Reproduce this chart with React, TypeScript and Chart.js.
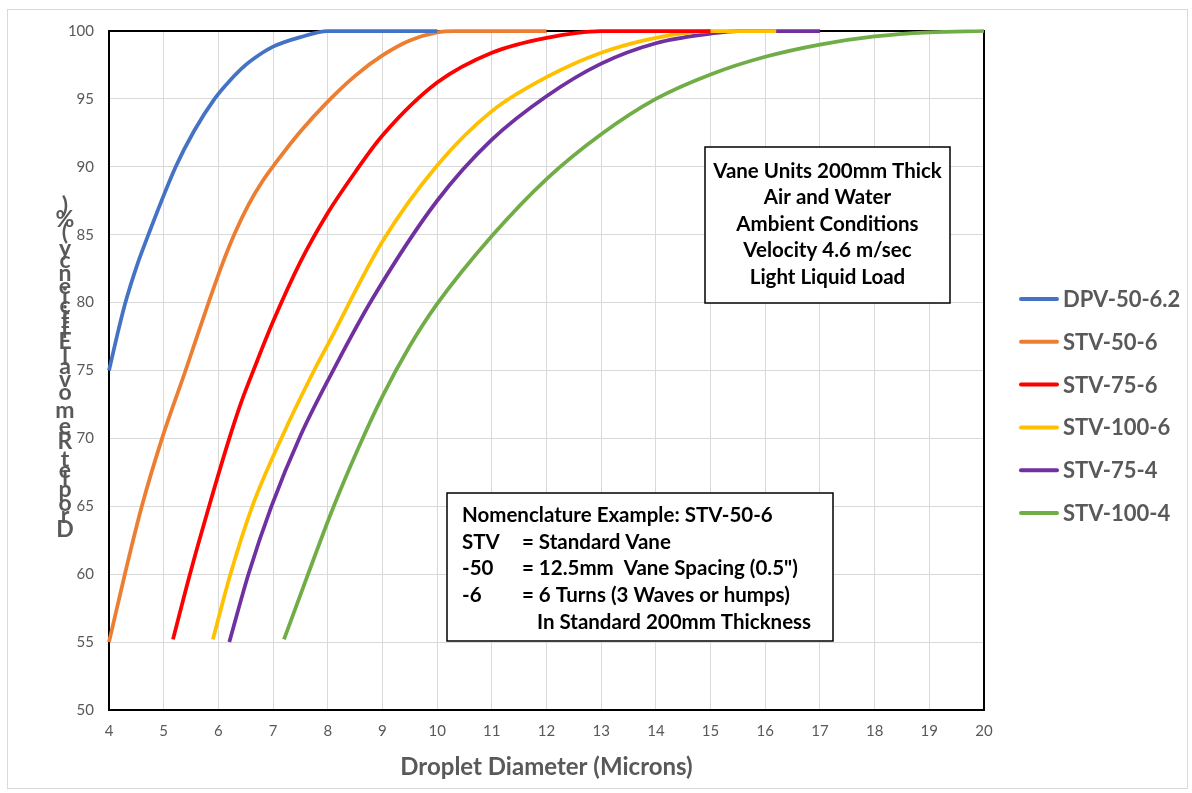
import React, { useEffect, useRef } from "react";
import { Chart, registerables } from "chart.js";

Chart.register(...registerables);

// ---------- DATA ----------
const SERIES_NAMES = ["DPV-50-6.2", "STV-50-6", "STV-75-6", "STV-100-6", "STV-75-4", "STV-100-4"];
const SERIES_COLORS = ["#4472C4", "#ED7D31", "#FF0000", "#FFC000", "#7030A0", "#70AD47"];

const DPV_50_62_X = [4, 4.15, 4.3, 4.5, 4.72, 5.22, 5.55, 5.93, 6.2, 6.5, 6.75, 7, 7.5, 8, 10];
const DPV_50_62_Y = [75, 77.6, 80, 82.6, 85, 90, 92.6, 95, 96.3, 97.5, 98.25, 98.85, 99.55, 100, 100];

const STV_50_6_X = [4, 4.29, 4.6, 4.97, 5.4, 5.82, 6.05, 6.3, 6.55, 6.8, 7.05, 7.5, 8, 8.5, 9, 9.5, 10, 10.3, 12];
const STV_50_6_Y = [55, 60, 65, 70, 75, 80, 82.6, 85.1, 87.2, 88.9, 90.3, 92.6, 94.8, 96.7, 98.2, 99.3, 99.9, 100, 100];

const STV_75_6_X = [5.17, 5.48, 5.83, 6.2, 6.43, 6.66, 7, 7.5, 8, 8.5, 9, 10, 11, 12, 13, 15];
const STV_75_6_Y = [55.2, 60, 65, 70, 72.8, 75.2, 78.6, 83, 86.6, 89.6, 92.3, 96.2, 98.4, 99.5, 100, 100];

const STV_100_6_X = [5.9, 6.22, 6.62, 7.15, 7.75, 8, 9, 10, 11, 12, 13, 14, 15, 16.2];
const STV_100_6_Y = [55.2, 60, 65, 70, 75, 76.9, 84.5, 90.1, 94.1, 96.6, 98.4, 99.5, 100, 100];

const STV_75_4_X = [6.2, 6.55, 6.97, 7.5, 8.15, 8.82, 10, 11, 12, 13, 14, 15, 15.5, 17];
const STV_75_4_Y = [55, 60, 65, 70.2, 75.4, 80.3, 87.5, 92, 95.2, 97.6, 99.1, 99.8, 100, 100];

const STV_100_4_X = [7.2, 7.64, 8.07, 8.55, 9, 9.5, 10, 11, 12, 13, 14, 15, 16, 17, 18, 19, 20];
const STV_100_4_Y = [55.2, 60, 64.6, 69.2, 73.1, 76.8, 79.9, 84.9, 89.1, 92.4, 95, 96.8, 98.1, 99, 99.6, 99.9, 100];

const SERIES_X = [DPV_50_62_X, STV_50_6_X, STV_75_6_X, STV_100_6_X, STV_75_4_X, STV_100_4_X];
const SERIES_Y = [DPV_50_62_Y, STV_50_6_Y, STV_75_6_Y, STV_100_6_Y, STV_75_4_Y, STV_100_4_Y];

const X_MIN = 4, X_MAX = 20, X_STEP = 1;
const Y_MIN = 50, Y_MAX = 100, Y_STEP = 5;

const X_TITLE = "Droplet Diameter (Microns)";
const Y_TITLE = "Droplet Removal Efficiency (%)";

const INFO_LINES = [
  "Vane Units 200mm Thick",
  "Air and Water",
  "Ambient Conditions",
  "Velocity 4.6 m/sec",
  "Light Liquid Load",
];
const NOMEN_TITLE = "Nomenclature Example: STV-50-6";
const NOMEN_KEYS = ["STV", "-50", "-6", ""];
const NOMEN_VALUES = [
  "= Standard Vane",
  "= 12.5mm  Vane Spacing (0.5\")",
  "= 6 Turns (3 Waves or humps)",
  "In Standard 200mm Thickness",
];

const FONT = "Lato, 'Noto Sans', 'DejaVu Sans', sans-serif";
const GRAY_TEXT = "#595959";

// ---------- PLUGINS ----------
const backgroundPlugin = {
  id: "bgPlugin",
  beforeDraw(chart: any) {
    const ctx = chart.ctx;
    ctx.save();
    ctx.fillStyle = "#ffffff";
    ctx.fillRect(0, 0, chart.width, chart.height);
    ctx.strokeStyle = "#d9d9d9";
    ctx.lineWidth = 1;
    ctx.strokeRect(7.5, 9.5, chart.width - 12, chart.height - 14);
    ctx.restore();
  },
};

const framePlugin = {
  id: "framePlugin",
  beforeDatasetsDraw(chart: any) {
    const { ctx, chartArea: a } = chart;
    ctx.save();
    ctx.strokeStyle = "#000000";
    ctx.lineWidth = 2;
    ctx.strokeRect(a.left, a.top, a.right - a.left, a.bottom - a.top);
    ctx.restore();
  },
};

const decorPlugin = {
  id: "decorPlugin",
  afterDatasetsDraw(chart: any) {
    const { ctx, chartArea: a } = chart;
    ctx.save();

    // Info box
    ctx.fillStyle = "#ffffff";
    ctx.fillRect(705, 147, 245, 156);
    ctx.strokeStyle = "#000000";
    ctx.lineWidth = 1.5;
    ctx.strokeRect(705, 147, 245, 156);
    ctx.fillStyle = "#000000";
    ctx.font = `bold 20.5px ${FONT}`;
    ctx.textAlign = "center";
    ctx.textBaseline = "middle";
    INFO_LINES.forEach((t, i) => ctx.fillText(t, 827.5, 171 + i * 26.5));

    // Nomenclature box
    ctx.fillStyle = "#ffffff";
    ctx.fillRect(447, 493, 386, 148);
    ctx.strokeRect(447, 493, 386, 148);
    ctx.fillStyle = "#000000";
    ctx.textAlign = "left";
    ctx.fillText(NOMEN_TITLE, 462, 515);
    NOMEN_KEYS.forEach((k, i) => {
      const y = 542 + i * 26.8;
      if (k) ctx.fillText(k, 462, y);
      ctx.fillText(NOMEN_VALUES[i], k ? 522 : 537, y);
    });

    // Legend
    ctx.font = `bold 22px ${FONT}`;
    ctx.textBaseline = "middle";
    chart.data.datasets.forEach((ds: any, i: number) => {
      const y = 299 + i * 42.8;
      ctx.strokeStyle = ds.borderColor;
      ctx.lineWidth = 4;
      ctx.lineCap = "round";
      ctx.beginPath();
      ctx.moveTo(1021, y);
      ctx.lineTo(1057, y);
      ctx.stroke();
      ctx.fillStyle = GRAY_TEXT;
      ctx.fillText(ds.label, 1063, y + 1);
    });

    // Y title, stacked characters (upright glyphs, advanced by glyph width)
    ctx.font = `bold 23px ${FONT}`;
    ctx.fillStyle = GRAY_TEXT;
    ctx.textAlign = "center";
    const chars = Array.from(Y_TITLE);
    const widths = chars.map((c) => ctx.measureText(c).width);
    const total = widths.reduce((s, w) => s + w, 0);
    const target = 336;
    const k = target / total;
    const cy = (a.top + a.bottom) / 2;
    let y = cy + target / 2;
    chars.forEach((c, i) => {
      const w = widths[i] * k;
      ctx.fillText(c, 65, y - w / 2);
      y -= w;
    });

    // X title
    ctx.font = `bold 24px ${FONT}`;
    ctx.textAlign = "center";
    ctx.fillText(X_TITLE, (a.left + a.right) / 2, 767);

    ctx.restore();
  },
};

// ---------- COMPONENT ----------
export default function App() {
  const ref = useRef<HTMLCanvasElement | null>(null);

  useEffect(() => {
    document.body.style.margin = "0";
    document.body.style.overflow = "hidden";
    const canvas = ref.current;
    if (!canvas) return;

    const datasets = SERIES_NAMES.map((name, i) => ({
      label: name,
      data: SERIES_X[i].map((x, j) => ({ x, y: SERIES_Y[i][j] })),
      borderColor: SERIES_COLORS[i],
      backgroundColor: SERIES_COLORS[i],
      borderWidth: 3.75,
      pointRadius: 0,
      fill: false,
      cubicInterpolationMode: "monotone" as const,
      clip: { left: 3, top: 4, right: 3, bottom: 3 },
    }));

    const chart = new Chart(canvas, {
      type: "line",
      data: { datasets },
      options: {
        animation: false,
        responsive: false,
        devicePixelRatio: 1,
        layout: { padding: { left: 0, top: 31, right: 208, bottom: 0 } },
        plugins: {
          legend: { display: false },
          tooltip: { enabled: false },
          title: { display: false },
        },
        scales: {
          x: {
            type: "linear",
            min: X_MIN,
            max: X_MAX,
            ticks: {
              stepSize: X_STEP,
              color: GRAY_TEXT,
              font: { family: FONT, size: 15 },
              padding: 12,
            },
            grid: { color: "#d9d9d9", lineWidth: 1, drawTicks: false },
            border: { display: false },
            afterFit: (s: any) => {
              s.height = 83;
            },
          },
          y: {
            type: "linear",
            min: Y_MIN,
            max: Y_MAX,
            ticks: {
              stepSize: Y_STEP,
              color: GRAY_TEXT,
              font: { family: FONT, size: 15 },
              padding: 15,
            },
            grid: { color: "#d9d9d9", lineWidth: 1, drawTicks: false },
            border: { display: false },
            afterFit: (s: any) => {
              s.width = 109;
            },
          },
        },
      },
      plugins: [backgroundPlugin, framePlugin, decorPlugin],
    });

    return () => chart.destroy();
  }, []);

  return (
    <div style={{ width: 1192, height: 793 }}>
      <canvas ref={ref} width={1192} height={793} style={{ display: "block" }} />
    </div>
  );
}
